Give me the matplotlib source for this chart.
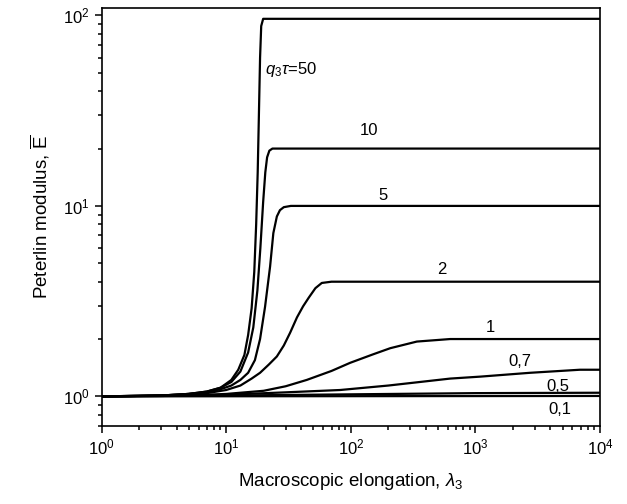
import matplotlib
matplotlib.use("Agg")
import matplotlib.pyplot as plt

plt.rcParams['font.family'] = ['Liberation Sans', 'DejaVu Sans']
plt.rcParams['mathtext.fontset'] = 'custom'
plt.rcParams['mathtext.rm'] = 'Liberation Sans'
plt.rcParams['mathtext.it'] = 'Liberation Sans:italic'
plt.rcParams['mathtext.default'] = 'regular'

# CURVES (lambda_3, E)
LAM_50 = [1, 2, 3, 5, 7, 9, 11, 12.5, 14, 15, 16, 16.8, 17.4, 17.9, 18.3, 18.7, 19.1, 19.8, 1e4]
E_50 = [1, 1.005, 1.01, 1.03, 1.06, 1.11, 1.22, 1.38, 1.65, 2.1, 2.9, 4.5, 8, 15, 30, 60, 88, 96, 96]

LAM_10 = [1, 3, 5, 7, 9, 11, 13, 15, 16.5, 17.8, 18.8, 19.8, 20.6, 21.3, 22.2, 23.5, 1e4]
E_10 = [1, 1.01, 1.03, 1.06, 1.11, 1.19, 1.35, 1.7, 2.3, 3.6, 6, 10.5, 15, 18, 19.5, 20, 20]

LAM_5 = [1, 3, 5, 7, 9, 11, 13, 15, 17, 18.7, 20.5, 22.5, 23.9, 25.5, 27, 29, 33, 1e4]
E_5 = [1, 1.01, 1.03, 1.05, 1.09, 1.14, 1.22, 1.33, 1.55, 2.0, 2.95, 4.8, 7.2, 8.8, 9.5, 9.85, 10, 10]

LAM_2 = [1, 3, 5, 7, 10, 13, 16, 18.7, 22, 25.5, 29, 32.6, 37, 41.4, 46, 52, 58.5, 70, 1e4]
E_2 = [1, 1.01, 1.02, 1.04, 1.08, 1.14, 1.24, 1.33, 1.47, 1.62, 1.85, 2.16, 2.6, 2.97, 3.3, 3.7, 3.94, 4.0, 4.0]

LAM_1 = [1, 3, 5, 10, 20, 30, 44.3, 70, 98.7, 150, 207, 339, 627, 1e4]
E_1 = [1, 1.005, 1.01, 1.03, 1.07, 1.13, 1.22, 1.36, 1.5, 1.66, 1.79, 1.94, 2.0, 2.0]

LAM_07 = [1, 10, 30, 82, 200, 627, 1100, 2750, 6900, 1e4]
E_07 = [1, 1.02, 1.05, 1.08, 1.14, 1.24, 1.27, 1.33, 1.38, 1.38]

LAM_05 = [1, 10, 100, 1000, 1e4]
E_05 = [1, 1.01, 1.025, 1.04, 1.045]

LAM_01 = [1, 1e4]
E_01 = [1, 1.005]

CURVES = [(LAM_50, E_50), (LAM_10, E_10), (LAM_5, E_5), (LAM_2, E_2),
          (LAM_1, E_1), (LAM_07, E_07), (LAM_05, E_05), (LAM_01, E_01)]

# curve labels: text, lambda, E
LABELS = [(r'$\mathit{q}_3\mathit{\tau}$=50', 20.5, 52, 'left'),
          ('10', 140, 25, 'center'),
          ('5', 181, 11.4, 'center'),
          ('2', 537, 4.62, 'center'),
          ('1', 1312, 2.29, 'center'),
          ('0,7', 2285, 1.53, 'center'),
          ('0,5', 4615, 1.128, 'center'),
          ('0,1', 4786, 0.851, 'center')]

fig = plt.figure(figsize=(6.27, 5.04), dpi=100)
ax = fig.add_axes([0.162, 0.155, 0.795, 0.8285])

for lam, e in CURVES:
    ax.plot(lam, e, color='k', linewidth=1.6, solid_joinstyle='round')

for txt, x, y, ha in LABELS:
    ax.text(x, y, txt, fontsize=12, ha=ha, va='center')

ax.set_xscale('log')
ax.set_yscale('log')
ax.set_xlim(1, 1e4)
ax.set_ylim(0.70, 109)

ax.set_xlabel(r'Macroscopic elongation, $\mathit{\lambda}_3$', fontsize=13.5, labelpad=10)
ax.set_ylabel(r'Peterlin modulus, $\overline{\mathrm{E}}$', fontsize=13.5, labelpad=8)

ax.tick_params(which='both', direction='out', top=False, right=False, labelsize=12, width=1.1)
ax.tick_params(which='major', length=5)
ax.tick_params(which='minor', length=3)
for sp in ax.spines.values():
    sp.set_linewidth(1.2)

fig.savefig('out.png', dpi=100)
